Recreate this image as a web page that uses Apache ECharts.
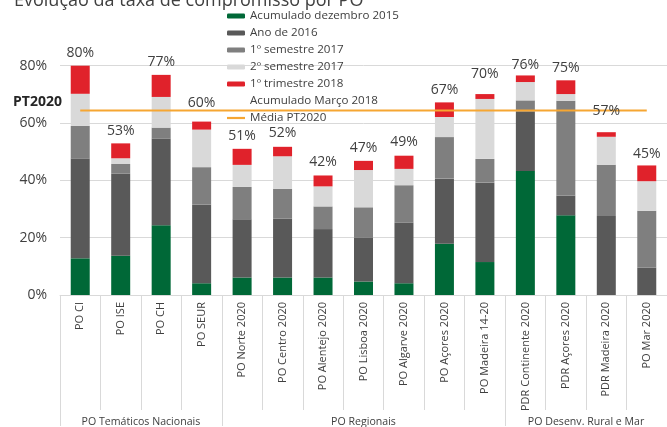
<!DOCTYPE html>
<html>
<head>
<meta charset="utf-8">
<script src="https://cdn.jsdelivr.net/npm/echarts@6/dist/echarts.min.js"></script>
<style>
  html, body { margin: 0; padding: 0; background: #fff; }
  #chart { width: 667px; height: 427px; }
</style>
</head>
<body>
<div id="chart"></div>
<script>
// categories (PO) and groups
const categories = ['PO CI', 'PO ISE', 'PO CH', 'PO SEUR', 'PO Norte 2020', 'PO Centro 2020',
  'PO Alentejo 2020', 'PO Lisboa 2020', 'PO Algarve 2020', 'PO Açores 2020', 'PO Madeira 14-20',
  'PDR Continente 2020', 'PDR Açores 2020', 'PDR Madeira 2020', 'PO Mar 2020'];
const groupNames = ['PO Temáticos Nacionais', 'PO Regionais', 'PO Desenv. Rural e Mar'];
const groupSizes = [4, 7, 4];

// stacked segments, % of commitment
const acumDez2015 = [12.8, 13.7, 24.3, 4.1, 6.1, 6.1, 6.1, 4.7, 4.1, 17.9, 11.5, 43.3, 27.8, 0, 0];
const ano2016     = [34.7, 28.7, 30.2, 27.5, 20.3, 20.6, 16.9, 15.4, 21.1, 22.7, 27.7, 20.6, 6.9, 27.6, 9.5];
const sem1_2017   = [11.5, 3.3, 3.9, 13.0, 11.3, 10.3, 7.9, 10.5, 13.1, 14.5, 8.3, 4.0, 33.1, 17.8, 19.9];
const sem2_2017   = [11.2, 2.0, 10.7, 13.1, 7.7, 11.4, 7.0, 13.0, 5.7, 7.0, 20.9, 6.4, 2.3, 9.8, 10.3];
const trim1_2018  = [9.8, 5.2, 7.7, 2.8, 5.6, 3.3, 3.8, 3.2, 4.6, 5.1, 1.7, 2.3, 4.8, 1.6, 5.5];
// total labels (Acumulado Março 2018)
const acumMar2018 = [80, 53, 77, 60, 51, 52, 42, 47, 49, 67, 70, 76, 75, 57, 45];
// average line
const mediaPT2020 = [64.4, 64.4, 64.4, 64.4, 64.4, 64.4, 64.4, 64.4, 64.4, 64.4, 64.4, 64.4, 64.4, 64.4, 64.4];
const yTicks = [0, 20, 40, 60, 80];

const FONT = 'Open Sans';
const TXT = '#404040';
const GRIDC = '#d9d9d9';
const ORANGE = '#f6a632';

// group boundaries / centres in category units
const groupEdges = [0];
groupSizes.forEach(function (n, i) { groupEdges.push(groupEdges[i] + n); });
const groupCentres = groupSizes.map(function (n, i) { return groupEdges[i] + n / 2; });

// labels that sit a bit higher to clear the average line
const liftedLabels = [3, 10, 13];

function barSeries(name, data, color) {
  return {
    name: name, type: 'bar', stack: 'total', barWidth: 19,
    itemStyle: { color: color },
    data: data
  };
}

const chart = echarts.init(document.getElementById('chart'), null, { renderer: 'canvas' });
chart.setOption({
  animation: false,
  textStyle: { fontFamily: FONT },
  title: {
    text: 'Evolução da taxa de compromisso por PO',
    left: 9, top: -13,
    textStyle: { fontSize: 18, fontWeight: 'normal', color: TXT, fontFamily: FONT }
  },
  legend: {
    orient: 'vertical', left: 227, top: 10, padding: 0,
    itemWidth: 18, itemHeight: 5, itemGap: 5,
    textStyle: { fontSize: 11.6, color: TXT, fontFamily: FONT, lineHeight: 12 },
    data: ['Acumulado dezembro 2015', 'Ano de 2016', '1º semestre 2017', '2º semestre 2017',
      '1º trimestre 2018', 'Acumulado Março 2018',
      { name: 'Média PT2020', icon: 'path://M0,0L18,0L18,2.2L0,2.2Z' }]
  },
  graphic: [{
    type: 'text', left: 13, top: 95,
    style: { text: 'PT2020', font: 'bold 14px "Open Sans"', fill: '#262626' }
  }],
  grid: { left: 60, right: -6, top: 65.7, bottom: 129.3, containLabel: false },
  xAxis: [{
    type: 'category', data: categories,
    axisLine: { lineStyle: { color: GRIDC } },
    axisTick: { show: true, interval: 0, length: 115, lineStyle: { color: GRIDC } },
    axisLabel: { interval: 0, rotate: 90, margin: 7, fontSize: 11, color: TXT, fontFamily: FONT }
  }, {
    type: 'value', min: 0, max: 15, position: 'bottom',
    axisLine: { show: false },
    splitLine: { show: false },
    axisTick: { show: true, customValues: groupEdges, length: 131, lineStyle: { color: GRIDC } },
    axisLabel: {
      customValues: groupCentres, margin: 121, fontSize: 10.6, color: TXT, fontFamily: FONT,
      formatter: function (v) { return groupNames[groupCentres.indexOf(v)] || ''; }
    }
  }],
  yAxis: {
    type: 'value', min: yTicks[0], max: yTicks[yTicks.length - 1], interval: 20,
    axisLine: { show: false }, axisTick: { show: false },
    axisLabel: { formatter: '{value}%', fontSize: 14, color: TXT, margin: 13, fontFamily: FONT },
    splitLine: { lineStyle: { color: GRIDC } }
  },
  series: [
    barSeries('Acumulado dezembro 2015', acumDez2015, '#006837'),
    barSeries('Ano de 2016', ano2016, '#595959'),
    barSeries('1º semestre 2017', sem1_2017, '#7f7f7f'),
    barSeries('2º semestre 2017', sem2_2017, '#d9d9d9'),
    barSeries('1º trimestre 2018', trim1_2018, '#e0222b'),
    {
      name: 'Acumulado Março 2018', type: 'line', z: 5,
      symbol: 'circle', symbolSize: 1,
      itemStyle: { color: 'rgba(0,0,0,0)' },
      lineStyle: { color: 'rgba(0,0,0,0)', width: 0 },
      label: {
        show: true, position: 'top', distance: 5, formatter: '{c}%',
        fontSize: 14, color: TXT, fontFamily: FONT
      },
      data: acumMar2018.map(function (v, i) {
        return liftedLabels.indexOf(i) >= 0 ? { value: v, label: { distance: 13 } } : v;
      })
    },
    {
      name: 'Média PT2020', type: 'line', z: 4,
      symbol: 'none',
      lineStyle: { color: ORANGE, width: 2 },
      itemStyle: { color: ORANGE },
      data: mediaPT2020
    }
  ]
});
</script>
</body>
</html>
